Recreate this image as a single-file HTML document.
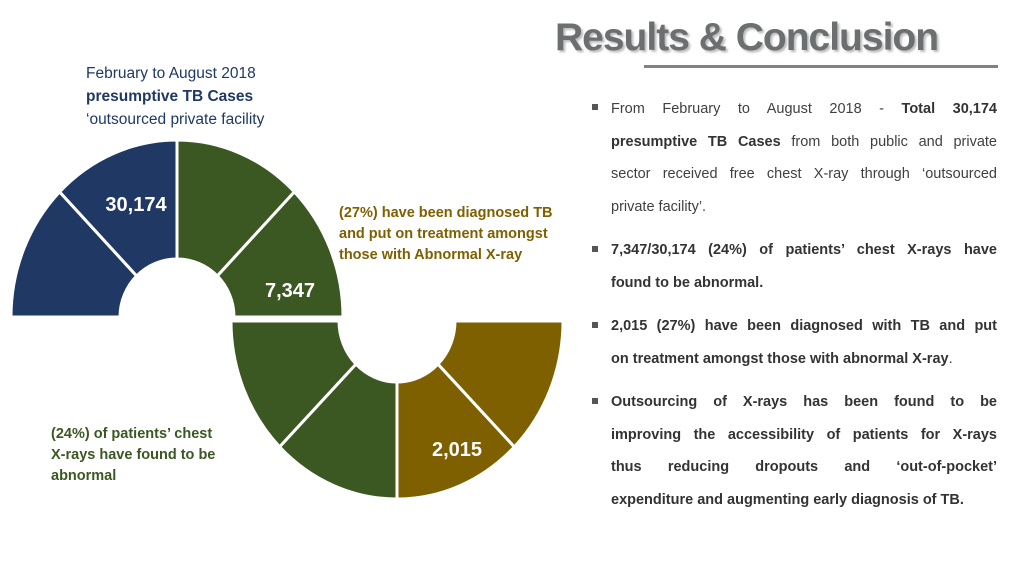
<!DOCTYPE html>
<html><head><meta charset="utf-8">
<style>
body{margin:0;width:1024px;height:576px;background:#fff;position:relative;overflow:hidden;font-family:"Liberation Sans",sans-serif;}
.abs{position:absolute}
#title{left:555px;top:16px;font-size:39px;font-weight:bold;color:#6b6f70;letter-spacing:-1px;text-shadow:2px 2px 2px #bbb;white-space:nowrap}
#uline{left:644px;top:65px;width:354px;height:3px;background:#7f8384}
.tl{left:86px;top:62px;font-size:15.5px;line-height:23px;color:#1f3864}
.rc{left:611px;width:386px;font-size:14.5px;line-height:32.7px;color:#404040}
.rc div{text-align:justify;text-align-last:justify;white-space:nowrap}
.rc div.last{text-align-last:left}
.rc b{color:#333}
.bul{left:592px;width:6px;height:6px;background:#555}
.lab{font-size:14.5px;font-weight:bold;line-height:21px;white-space:nowrap}
</style></head><body>
<div id="title" class="abs">Results &amp; Conclusion</div>
<div id="uline" class="abs"></div>
<div class="abs tl">February to August 2018<br><b>presumptive TB Cases</b><br>‘outsourced private facility</div>

<div class="abs bul" style="top:104px"></div>
<div class="abs rc" style="top:93px"><div>From February to August 2018 - <b>Total 30,174</b></div><div><b>presumptive TB Cases</b> from both public and private</div><div>sector received free chest X-ray through ‘outsourced</div><div class="last">private facility’.</div></div>
<div class="abs bul" style="top:246px"></div>
<div class="abs rc" style="top:234px"><div><b>7,347/30,174 (24%) of patients’ chest X-rays have</b></div><div class="last"><b>found to be abnormal.</b></div></div>
<div class="abs bul" style="top:322px"></div>
<div class="abs rc" style="top:310px"><div><b>2,015 (27%) have been diagnosed with TB and put</b></div><div class="last"><b>on treatment amongst those with abnormal X-ray</b>.</div></div>
<div class="abs bul" style="top:398px"></div>
<div class="abs rc" style="top:386px"><div><b>Outsourcing of X-rays has been found to be</b></div><div><b>improving the accessibility of patients for X-rays</b></div><div><b>thus reducing dropouts and ‘out-of-pocket’</b></div><div class="last"><b>expenditure and augmenting early diagnosis of TB.</b></div></div>

<div class="abs lab" style="left:339px;top:203px;color:#7f6000">(27%) have been diagnosed TB<br>and put on treatment amongst<br>those with Abnormal X-ray</div>
<div class="abs lab" style="left:51px;top:424px;color:#3b5722">(24%) of patients’ chest<br>X-rays have found to be<br>abnormal</div>

<svg class="abs" style="left:0;top:0" width="1024" height="576">
<g id="g"></g>
<text x="136" y="211" font-size="20" font-weight="bold" fill="#fff" text-anchor="middle" font-family="Liberation Sans,sans-serif">30,174</text>
<text x="290" y="297" font-size="20" font-weight="bold" fill="#fff" text-anchor="middle" font-family="Liberation Sans,sans-serif">7,347</text>
<text x="457" y="456" font-size="20" font-weight="bold" fill="#fff" text-anchor="middle" font-family="Liberation Sans,sans-serif">2,015</text>
</svg>
<script>
const topSegments=[1,1,1,1];
const topColors=["#1f3864","#1f3864","#3b5722","#3b5722"];
const bottomSegments=[1,1,1,1];
const bottomColors=["#3b5722","#3b5722","#7f6000","#7f6000"];
const g=document.getElementById('g');
function donut(vals,cols,cx,cy,rx,ry,irx,iry,dir,name){
  // dir=-1: upper half (left to right over the top); dir=1: lower half (left to right under the bottom)
  const tot=vals.reduce((a,b)=>a+b,0);let frac=0;
  const pt=(r1,r2,f)=>{const t=Math.PI*f;return [cx-r1*Math.cos(t),cy+dir*r2*Math.sin(t)];};
  const sweepO=dir<0?1:0, sweepI=dir<0?0:1;
  vals.forEach((v,i)=>{
    const f1=frac+v/tot;
    const o0=pt(rx,ry,frac),o1=pt(rx,ry,f1),i1=pt(irx,iry,f1),i0=pt(irx,iry,frac);
    const el=document.createElementNS('http://www.w3.org/2000/svg','path');
    el.setAttribute('d',`M${o0[0]},${o0[1]} A${rx},${ry} 0 0 ${sweepO} ${o1[0]},${o1[1]} L${i1[0]},${i1[1]} A${irx},${iry} 0 0 ${sweepI} ${i0[0]},${i0[1]}Z`);
    el.setAttribute('fill',cols[i]);el.setAttribute('stroke','#fff');el.setAttribute('stroke-width','3');
    
    
    g.appendChild(el);frac=f1;
  });
}
donut(topSegments,topColors,177,317,166,177,57,58,-1,'top-donut');
donut(bottomSegments,bottomColors,397,321,166,178,58,61,1,'bottom-donut');
</script>
</body></html>
